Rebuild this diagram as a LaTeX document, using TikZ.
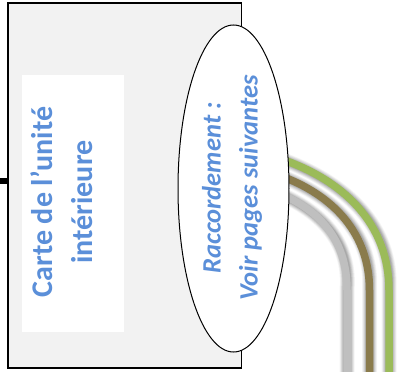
\documentclass[tikz,border=0pt]{standalone}
\usepackage{fontspec}
\setmainfont{Carlito}
\definecolor{txtblue}{HTML}{5B8FD9}
\definecolor{wgreen}{HTML}{9BBB59}
\definecolor{wbrown}{HTML}{8A7B4C}
\definecolor{wgray}{HTML}{BFBFBF}
\definecolor{boxfill}{HTML}{F2F2F2}
\usetikzlibrary{shapes.geometric}
\tikzset{
  unit/.style={draw=black,line width=1.3pt,fill=boxfill,minimum width=233.5pt,minimum height=365pt,inner sep=0pt},
  card/.style={fill=white,minimum width=102pt,minimum height=257pt,inner sep=0pt},
  bubble/.style={draw=black,line width=1pt,fill=white,ellipse,minimum width=111pt,minimum height=327pt,inner sep=0pt},
  label/.style={text=txtblue,font=\bfseries,rotate=90,align=center,inner sep=0pt},
  wire/.style={line width=7.5pt,line cap=butt},
}
\begin{document}
\begin{tikzpicture}[x=1pt,y=-1pt]
\useasboundingbox (0,0) rectangle (400,372);
\fill[white] (0,0) rectangle (400,372);
\coordinate (gs) at (278,158);
\coordinate (ge) at (389,290);
\coordinate (bs) at (278,175);
\coordinate (be) at (369.5,290);
\coordinate (as) at (278,193);
\coordinate (ae) at (347,290);
\coordinate (gb) at (389,380);
\coordinate (bb) at (369.5,380);
\coordinate (ab) at (347,380);
\foreach \w/\o in {15/.04,13.5/.05,12/.06,10.5/.07,9/.08,7.5/.09}{
  \begin{scope}[shift={(3.5,3)}]
  \draw[line width=\w pt,black,opacity=\o] (as) .. controls (325,212) and (347,245) .. (ae) -- (ab);
  \draw[line width=\w pt,black,opacity=\o] (bs) .. controls (335,195) and (369.5,235) .. (be) -- (bb);
  \draw[line width=\w pt,black,opacity=\o] (gs) .. controls (345,180) and (389,225) .. (ge) -- (gb);
  \end{scope}
}
\draw[wire,wgray] (as) .. controls (325,212) and (347,245) .. (ae) -- (ab);
\draw[wire,wbrown] (bs) .. controls (335,195) and (369.5,235) .. (be) -- (bb);
\draw[wire,wgreen] (gs) .. controls (345,180) and (389,225) .. (ge) -- (gb);
\node[unit] (box) at (124.75,185.5) {};
\node[card] (cardbox) at (73,203.5) {};
\coordinate (stub) at (0,181);
\draw[line width=6pt,black] (stub) -- (box.west |- stub);
\node[label,font=\bfseries\fontsize{30}{40}\selectfont] (cardtxt) at (62,202) {Carte de l’unité\\intérieure};
\node[bubble] (oval) at (233.5,188.5) {};
\node[label,font=\bfseries\itshape\fontsize{26.5}{37}\selectfont] (ovaltxt) at (232,188) {Raccordement :\\Voir pages suivantes};
\end{tikzpicture}
\end{document}
